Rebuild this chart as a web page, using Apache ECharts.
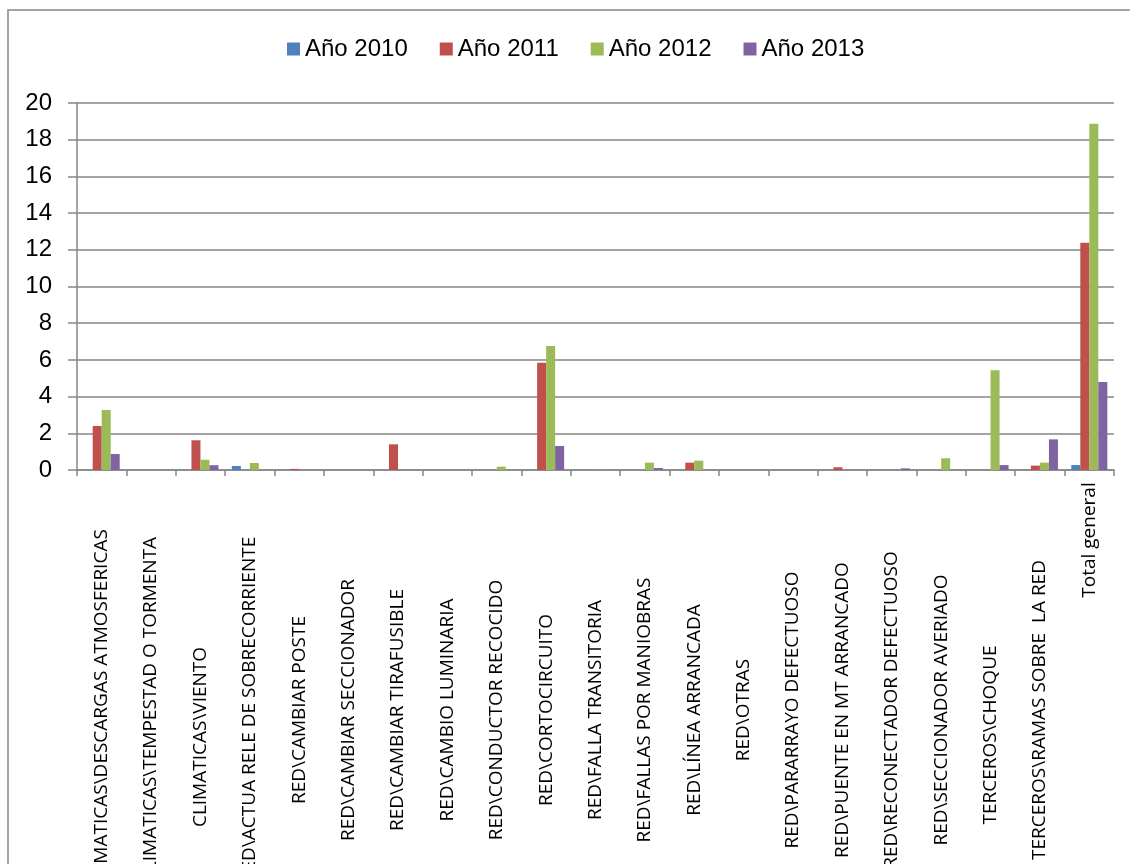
<!DOCTYPE html>
<html>
<head>
<meta charset="utf-8">
<script src="https://cdn.jsdelivr.net/npm/echarts@6/dist/echarts.min.js"></script>
<style>
  html, body { margin: 0; padding: 0; background: #fff; }
  #chart { width: 1130px; height: 864px; }
</style>
</head>
<body>
<div id="chart"></div>
<script>
  // categorias (eje x)
  const categorias = [
    'CLIMATICAS\\DESCARGAS ATMOSFERICAS',
    'CLIMATICAS\\TEMPESTAD O TORMENTA',
    'CLIMATICAS\\VIENTO',
    'RED\\ACTUA RELE DE SOBRECORRIENTE',
    'RED\\CAMBIAR POSTE',
    'RED\\CAMBIAR SECCIONADOR',
    'RED\\CAMBIAR TIRAFUSIBLE',
    'RED\\CAMBIO LUMINARIA',
    'RED\\CONDUCTOR RECOCIDO',
    'RED\\CORTOCIRCUITO',
    'RED\\FALLA TRANSITORIA',
    'RED\\FALLAS POR MANIOBRAS',
    'RED\\LÍNEA ARRANCADA',
    'RED\\OTRAS',
    'RED\\PARARRAYO DEFECTUOSO',
    'RED\\PUENTE EN MT ARRANCADO',
    'RED\\RECONECTADOR DEFECTUOSO',
    'RED\\SECCIONADOR AVERIADO',
    'TERCEROS\\CHOQUE',
    'TERCEROS\\RAMAS SOBRE  LA RED',
    'Total general'
  ]
  const series = ['Año 2010', 'Año 2011', 'Año 2012', 'Año 2013']
  const anio2010 = [0, 0, 0, 0.22, 0, 0, 0, 0, 0, 0, 0, 0, 0, 0, 0, 0, 0, 0, 0, 0, 0.27]
  const anio2011 = [2.4, 0, 1.62, 0, 0.06, 0, 1.4, 0, 0, 5.84, 0, 0, 0.4, 0, 0, 0.15, 0, 0, 0, 0.24, 12.38]
  const anio2012 = [3.27, 0, 0.56, 0.38, 0, 0, 0, 0, 0.18, 6.76, 0.02, 0.4, 0.51, 0, 0, 0, 0, 0.64, 5.43, 0.4, 18.87]
  const anio2013 = [0.87, 0, 0.26, 0, 0, 0, 0, 0, 0, 1.31, 0, 0.11, 0, 0, 0, 0, 0.09, 0, 0.27, 1.67, 4.8]
  const colores = ['#4F81BD', '#C0504D', '#9BBB59', '#8064A2']

  // desplazamiento propio de algunas etiquetas (como en el original)
  const labelPadding = {
    'CLIMATICAS\\VIENTO': [0, 54, 0, 0],
    'TERCEROS\\CHOQUE': [0, 50, 0, 0],
    'Total general': [0, 0, 0, 340]
  }

  const chart = echarts.init(document.getElementById('chart'))
  const option = {
    animation: false,
    graphic: [
      {
        type: 'rect',
        shape: { x: 8, y: 10, width: 1200, height: 900 },
        style: { fill: 'none', stroke: '#868686', lineWidth: 1.5 }
      }
    ],
    legend: {
      data: series,
      top: 32,
      left: 282,
      icon: 'rect',
      itemWidth: 13,
      itemHeight: 13,
      itemGap: 32,
      textStyle: {
        fontFamily: 'Liberation Sans',
        fontSize: 24,
        color: '#000'
      }
    },
    grid: { left: 77, right: 16, top: 103, bottom: 394, outerBoundsMode: 'none', containLabel: false },
    xAxis: {
      type: 'category',
      data: categorias.map(c => labelPadding[c]
        ? { value: c, textStyle: { padding: labelPadding[c], align: 'center', verticalAlign: 'middle' } }
        : c),
      axisLine: { lineStyle: { color: '#868686', width: 1.5 } },
      axisTick: { show: true, length: 6, lineStyle: { color: '#868686', width: 1.5 } },
      axisLabel: {
        interval: 0,
        rotate: 90,
        align: 'center',
        verticalAlign: 'middle',
        margin: 240,
        fontFamily: 'Open Sans',
        fontSize: 19,
        color: '#000'
      }
    },
    yAxis: {
      type: 'value',
      min: 0,
      max: 20,
      interval: 2,
      axisLine: { show: true, lineStyle: { color: '#868686', width: 1.5 } },
      axisTick: { show: true, length: 9, lineStyle: { color: '#868686', width: 1.5 } },
      axisLabel: {
        margin: 25,
        fontFamily: 'Liberation Sans',
        fontSize: 24,
        color: '#000'
      },
      splitLine: { lineStyle: { color: '#868686', width: 1.5 } }
    },
    series: [anio2010, anio2011, anio2012, anio2013].map((d, i) => ({
      name: series[i],
      type: 'bar',
      data: d,
      barGap: '0%',
      barCategoryGap: '27%',
      itemStyle: { color: colores[i] }
    }))
  }
  chart.setOption(option)
</script>
</body>
</html>
